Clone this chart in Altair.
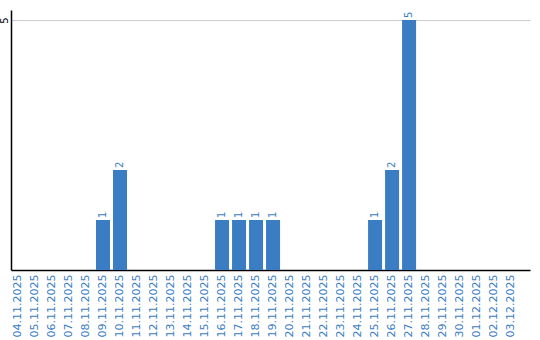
import altair as alt
import pandas as pd

dates = ["04.11.2025","05.11.2025","06.11.2025","07.11.2025","08.11.2025","09.11.2025",
         "10.11.2025","11.11.2025","12.11.2025","13.11.2025","14.11.2025","15.11.2025",
         "16.11.2025","17.11.2025","18.11.2025","19.11.2025","20.11.2025","21.11.2025",
         "22.11.2025","23.11.2025","24.11.2025","25.11.2025","26.11.2025","27.11.2025",
         "28.11.2025","29.11.2025","30.11.2025","01.12.2025","02.12.2025","03.12.2025"]
counts = [0,0,0,0,0,1,2,0,0,0,0,0,1,1,1,1,0,0,0,0,0,1,2,5,0,0,0,0,0,0]

df = pd.DataFrame({"date": dates, "count": counts})
df["label"] = df["count"].apply(lambda v: str(v) if v > 0 else "")

BLUE = "#3a7dc3"

xscale = alt.Scale(paddingInner=0.176, paddingOuter=0.35, align=0)
x = alt.X("date:N", sort=dates, title=None, scale=xscale,
          axis=alt.Axis(labelAngle=270, labelColor=BLUE, labelFont="DejaVu Sans",
                        labelFontSize=11, ticks=False, domainColor="#000000",
                        domainWidth=1.5, labelPadding=4, grid=False))
y = alt.Y("count:Q", title=None, scale=alt.Scale(domain=[0, 5.2], nice=False),
          axis=alt.Axis(values=[5], labelAngle=270, ticks=False, domainColor="#000000",
                        domainWidth=1.5, gridColor="#cccccc", labelFont="DejaVu Sans",
                        labelFontSize=10, labelColor="#000000", labelPadding=2,
                        labelAlign="center", labelBaseline="bottom"))

bars = alt.Chart(df).mark_bar(color=BLUE).encode(x=x, y=y)
texts = alt.Chart(df).mark_text(angle=270, align="left", baseline="middle", dx=2,
                                color=BLUE, font="DejaVu Sans", fontSize=10).encode(
    x=alt.X("date:N", sort=dates, scale=xscale), y="count:Q", text="label:N")

chart = (bars + texts).properties(
    width=519, height=260,
    background="white",
    autosize=alt.AutoSizeParams(type="none"),
    padding={"left": 11, "top": 10, "right": 10, "bottom": 70},
).configure_view(strokeWidth=0, stroke="transparent")

chart.save("out.html", embed_options={"renderer": "svg", "actions": False})
